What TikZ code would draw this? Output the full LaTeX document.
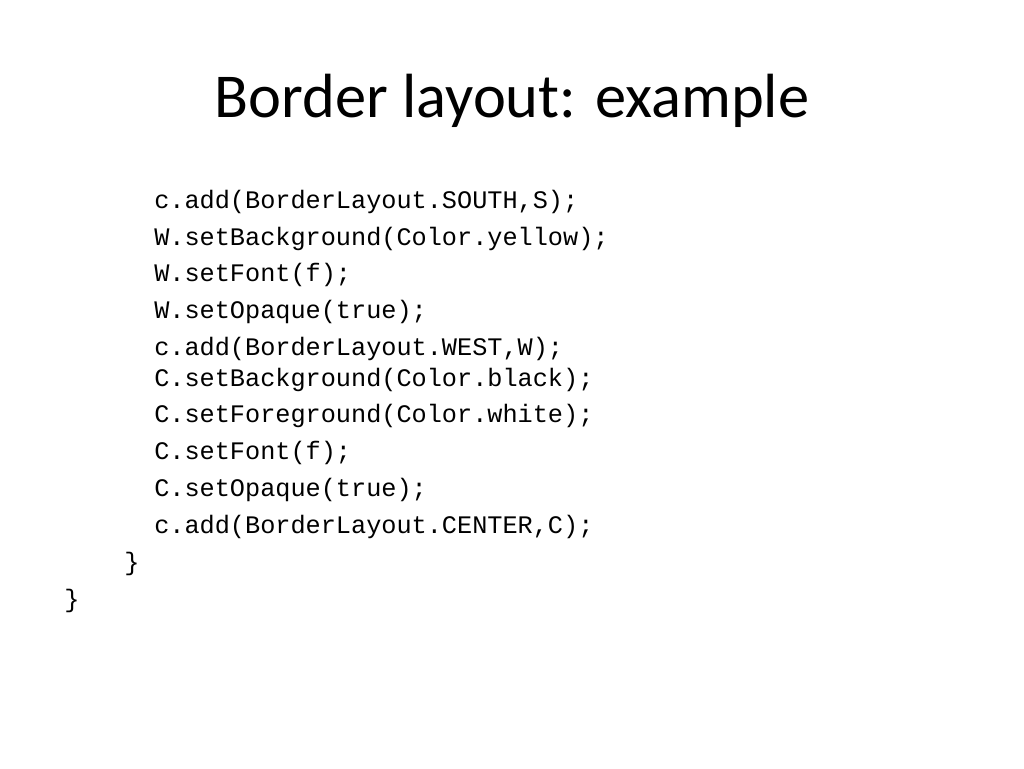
\documentclass[tikz,border=0pt]{standalone}
\usepackage{fontspec}
\setmainfont{Carlito}
\setmonofont{Liberation Mono}
\usetikzlibrary{positioning}

\begin{document}
\begin{tikzpicture}[x=0.026458cm, y=-0.026458cm,
      title/.style={anchor=base, inner sep=0pt, font=\fontsize{47}{56}\selectfont},
      code/.style={anchor=base west, inner sep=0pt, font=\ttfamily\fontsize{19}{23}\selectfont}]
      % slide area
      \useasboundingbox (0,0) rectangle (1024,768);
      % title
      \node[title](title) at(512,117) {Border layout: example};
      % code lines
      \node[code](l_1) at(154,208) {c.add(BorderLayout.SOUTH,S);};
      \node[code](l_2) at(154,245) {W.setBackground(Color.yellow);};
      \node[code](l_3) at(154,281) {W.setFont(f);};
      \node[code](l_4) at(154,318) {W.setOpaque(true);};
      \node[code](l_5) at(154,355) {c.add(BorderLayout.WEST,W);};
      \node[code](l_6) at(154,386) {C.setBackground(Color.black);};
      \node[code](l_7) at(154,422) {C.setForeground(Color.white);};
      \node[code](l_8) at(154,459) {C.setFont(f);};
      \node[code](l_9) at(154,496) {C.setOpaque(true);};
      \node[code](l_10) at(154,533) {c.add(BorderLayout.CENTER,C);};
      \node[code](close_1) at(124,570) {\}};
      \node[code](close_2) at(64,607) {\}};
  \end{tikzpicture}
\end{document}
